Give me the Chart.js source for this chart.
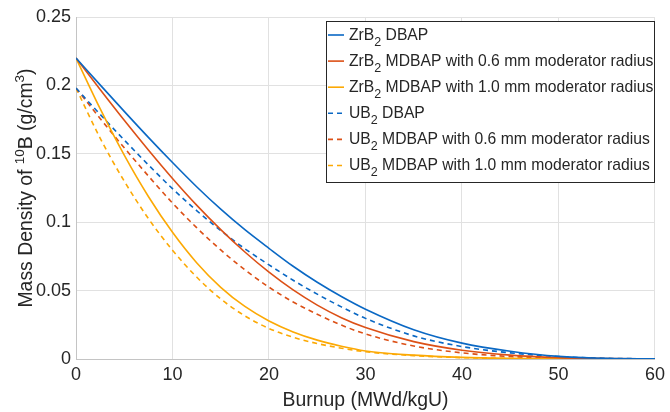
<!DOCTYPE html>
<html><head><meta charset="utf-8">
<script src="https://cdn.jsdelivr.net/npm/chart.js@4/dist/chart.umd.min.js"></script>
<style>html,body{margin:0;padding:0;background:#fff;}</style>
</head><body>
<canvas id="c" width="670" height="412"></canvas>
<script>
// ---- data ----
const burnup = [0, 2.5, 5, 7.5, 10, 12.5, 15, 17.5, 20, 22.5, 25, 27.5, 30, 35, 40, 45, 50, 55, 60];
const zrb2Dbap    = [0.220, 0.2004, 0.1810, 0.1620, 0.1436, 0.1259, 0.1095, 0.0945, 0.0809, 0.0678, 0.0561, 0.0457, 0.0364, 0.0214, 0.0116, 0.0057, 0.0019, 0.0005, 0.0001];
const zrb2Mdbap06 = [0.220, 0.1970, 0.1745, 0.1528, 0.1320, 0.1125, 0.0946, 0.0782, 0.0635, 0.0505, 0.0394, 0.0302, 0.0230, 0.0127, 0.0064, 0.0028, 0.0010, 0.0003, 0.0001];
const zrb2Mdbap10 = [0.220, 0.1830, 0.1490, 0.1188, 0.0926, 0.0704, 0.0524, 0.0384, 0.0278, 0.0198, 0.0138, 0.0093, 0.0059, 0.0028, 0.0012, 0.0005, 0.0002, 0.0001, 0.0000];
const ub2Dbap     = [0.198, 0.1788, 0.1601, 0.1419, 0.1245, 0.1085, 0.0939, 0.0806, 0.0688, 0.0576, 0.0474, 0.0381, 0.0297, 0.0169, 0.0091, 0.0045, 0.0018, 0.0005, 0.0001];
const ub2Mdbap06  = [0.198, 0.1758, 0.1544, 0.1338, 0.1140, 0.0960, 0.0797, 0.0652, 0.0525, 0.0417, 0.0327, 0.0248, 0.0183, 0.0095, 0.0045, 0.0018, 0.0006, 0.0002, 0.0000];
const ub2Mdbap10  = [0.198, 0.1615, 0.1300, 0.1027, 0.0795, 0.0599, 0.0439, 0.0315, 0.0223, 0.0159, 0.0113, 0.0079, 0.0053, 0.0025, 0.0010, 0.0004, 0.0001, 0.0000, 0.0000];
const seriesNames = [
  'ZrB_2 DBAP',
  'ZrB_2 MDBAP with 0.6 mm moderator radius',
  'ZrB_2 MDBAP with 1.0 mm moderator radius',
  'UB_2 DBAP',
  'UB_2 MDBAP with 0.6 mm moderator radius',
  'UB_2 MDBAP with 1.0 mm moderator radius'
];
const xTickValues = [0, 10, 20, 30, 40, 50, 60];
const xTickLabels = ['0', '10', '20', '30', '40', '50', '60'];
const yTickValues = [0, 0.05, 0.1, 0.15, 0.2, 0.25];
const yTickLabels = ['0', '0.05', '0.1', '0.15', '0.2', '0.25'];
const xTitle = 'Burnup (MWd/kgU)';
const yTitleParts = [['Mass Density of ', 0], ['10', 1], ['B (g/cm', 0], ['3', 1], [')', 0]];

// ---- styles ----
const FONT = "'Liberation Sans', Arial, Helvetica, sans-serif";
const TXT = '#262626';
const BLUE = '#0a68c4', RED = '#dc5016', YEL = '#fca904';
const styles = [
  {c: BLUE, d: []}, {c: RED, d: []}, {c: YEL, d: []},
  {c: BLUE, d: [5, 4]}, {c: RED, d: [5, 4]}, {c: YEL, d: [5, 4]}
];
const seriesValues = [zrb2Dbap, zrb2Mdbap06, zrb2Mdbap10, ub2Dbap, ub2Mdbap06, ub2Mdbap10];

const datasets = seriesValues.map((vals, i) => ({
  label: seriesNames[i],
  data: burnup.map((x, j) => ({x: x, y: vals[j]})),
  borderColor: styles[i].c,
  borderDash: styles[i].d,
  borderWidth: 1.6,
  pointRadius: 0,
  fill: false,
  cubicInterpolationMode: 'monotone'
}));

function drawRich(ctx, x, y, parts, size, subSize, shiftY) {
  let cx = x;
  for (const [t, m] of parts) {
    const fs = m === 0 ? size : subSize;
    ctx.font = fs + 'px ' + FONT;
    const dy = m === 1 ? -shiftY : (m === -1 ? shiftY : 0);
    ctx.fillText(t, cx, y + dy);
    cx += ctx.measureText(t).width;
  }
  return cx - x;
}
function measureRich(ctx, parts, size, subSize) {
  let w = 0;
  for (const [t, m] of parts) {
    ctx.font = (m === 0 ? size : subSize) + 'px ' + FONT;
    w += ctx.measureText(t).width;
  }
  return w;
}
function parseSub(label) {
  const parts = [];
  const re = /_(\w)/g;
  let last = 0, m;
  while ((m = re.exec(label)) !== null) {
    if (m.index > last) parts.push([label.slice(last, m.index), 0]);
    parts.push([m[1], -1]);
    last = m.index + m[0].length;
  }
  if (last < label.length) parts.push([label.slice(last), 0]);
  return parts;
}

const decor = {
  id: 'decor',
  afterDraw(chart) {
    const ctx = chart.ctx;
    const a = chart.chartArea;
    ctx.save();
    ctx.fillStyle = TXT;
    ctx.textBaseline = 'alphabetic';
    // x title
    const xs = 19.4;
    ctx.font = xs + 'px ' + FONT;
    const xw = ctx.measureText(xTitle).width;
    ctx.fillText(xTitle, (a.left + a.right) / 2 - xw / 2, 399 + 0.358 * xs);
    // y title (rotated)
    const ys = 19.4, yss = 13.5;
    const yw = measureRich(ctx, yTitleParts, ys, yss);
    ctx.save();
    ctx.translate(25 + 0.358 * ys, 188);
    ctx.rotate(-Math.PI / 2);
    drawRich(ctx, -yw / 2, 0, yTitleParts, ys, yss, 8);
    ctx.restore();
    // legend
    const L = 326.5, T = 21.5, R = 654.5, B = 182.5;
    ctx.fillStyle = '#ffffff';
    ctx.fillRect(L, T, R - L, B - T);
    ctx.strokeStyle = '#262626';
    ctx.lineWidth = 1;
    ctx.strokeRect(L, T, R - L, B - T);
    const ls = 15.7, lss = 12.5;
    chart.data.datasets.forEach((ds, i) => {
      const cy = 34 + i * 26.1;
      ctx.save();
      ctx.strokeStyle = ds.borderColor;
      ctx.lineWidth = 1.6;
      ctx.setLineDash(ds.borderDash || []);
      ctx.beginPath();
      ctx.moveTo(328, cy + 1);
      ctx.lineTo(344, cy + 1);
      ctx.stroke();
      ctx.restore();
      ctx.fillStyle = TXT;
      drawRich(ctx, 349, cy + 0.358 * ls, parseSub(ds.label), ls, lss, 6);
    });
    ctx.restore();
  }
};

new Chart(document.getElementById('c'), {
  type: 'line',
  data: {datasets: datasets},
  options: {
    responsive: false,
    devicePixelRatio: 1,
    animation: false,
    layout: {padding: {top: 17, right: 12, left: 0, bottom: 0}},
    plugins: {legend: {display: false}, tooltip: {enabled: false}},
    scales: {
      x: {
        type: 'linear', min: 0, max: 60,
        afterBuildTicks: s => { s.ticks = xTickValues.map(v => ({value: v})); },
        afterFit: s => { s.height = 53; },
        ticks: {
          padding: 5, color: TXT, font: {family: FONT, size: 18}, maxRotation: 0,
          callback: v => xTickLabels[xTickValues.indexOf(v)]
        },
        grid: {color: '#e1e1e1', lineWidth: 1, drawTicks: false},
        border: {color: '#c4c4c4', width: 1}
      },
      y: {
        type: 'linear', min: 0, max: 0.25,
        afterBuildTicks: s => { s.ticks = yTickValues.map(v => ({value: v})); },
        afterFit: s => { s.width = 76; },
        ticks: {
          padding: 5, color: TXT, font: {family: FONT, size: 18},
          callback: v => yTickLabels[yTickValues.findIndex(t => Math.abs(t - v) < 1e-9)]
        },
        grid: {color: '#e1e1e1', lineWidth: 1, drawTicks: false},
        border: {color: '#c4c4c4', width: 1}
      }
    }
  },
  plugins: [decor]
});
</script>
</body></html>
